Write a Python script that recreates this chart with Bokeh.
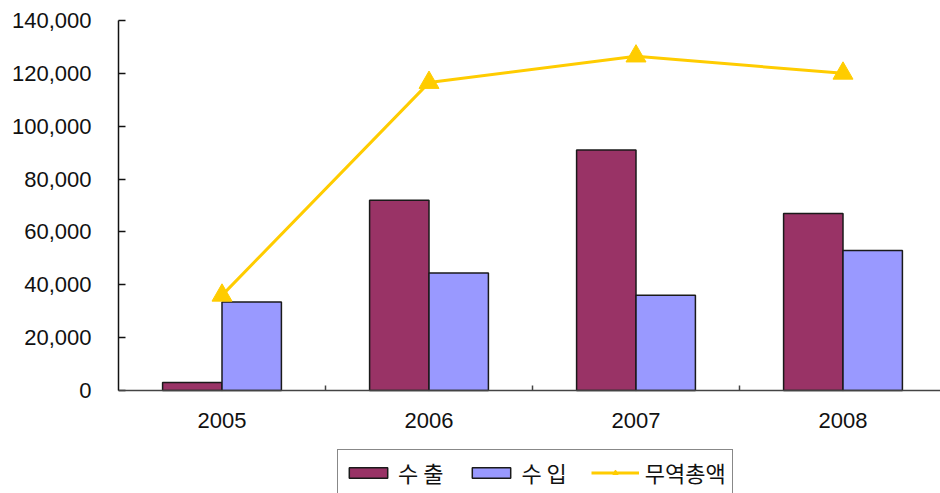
import numpy as np
from bokeh.plotting import figure
from bokeh.models import (ColumnDataSource, Range1d, FixedTicker, NumeralTickFormatter,
                          Legend, LegendItem, Span)
from bokeh.core.properties import value
from bokeh.embed import file_html
from bokeh.resources import INLINE

# ---- data ----
years = ["2005", "2006", "2007", "2008"]
exports = [3000, 72000, 91000, 67000]      # 수 출
imports = [33500, 44500, 36000, 53000]     # 수 입
totals = [36000, 116500, 126500, 120000]   # 무역총액
y_ticks = [0, 20000, 40000, 60000, 80000, 100000, 120000, 140000]

EXP_COLOR = "#993366"
IMP_COLOR = "#9999FF"
TOT_COLOR = "#FFCC00"
NUM_FONT = "Liberation Sans"
KR_FONT = "Noto Sans CJK KR"

n = len(years)
centers = np.arange(n) + 0.5
bounds = np.arange(1, n)
bw = 0.287
src = ColumnDataSource(dict(
    xc=centers, xe=centers - bw / 2, xi=centers + bw / 2,
    exp=exports, imp=imports, tot=totals, year=years,
))

W, H = 940, 493
TOP, ZERO_Y = 20, 390          # screen rows of 140,000 and 0
YMAX = 140000
ymin = -(H - ZERO_Y) / (ZERO_Y - TOP) * YMAX

p = figure(width=W, height=H, output_backend="svg", toolbar_location=None,
           x_range=Range1d(0, 822 / 207), y_range=Range1d(ymin, YMAX),
           x_axis_location=None,
           min_border_left=118, min_border_right=0, min_border_top=TOP,
           min_border_bottom=0)
p.outline_line_color = None
p.xgrid.grid_line_color = None
p.ygrid.grid_line_color = None
p.background_fill_color = "white"
p.border_fill_color = "white"

r_exp = p.vbar(x="xe", top="exp", width=bw, source=src, fill_color=EXP_COLOR,
               line_color="#1a1a1a", line_width=1.5)
r_imp = p.vbar(x="xi", top="imp", width=bw, source=src, fill_color=IMP_COLOR,
               line_color="#1a1a1a", line_width=1.5)

# category (x) axis drawn at y = 0
p.add_layout(Span(location=0, dimension="width", line_color="#444444", line_width=1.5))
p.ray(x=bounds, y=np.zeros(len(bounds)), length=5, length_units="screen",
      angle=np.pi / 2, line_color="#444444", line_width=1.5)
p.text(x="xc", y=0, text="year", source=src, y_offset=22, text_align="center",
       text_baseline="top", text_font=value(NUM_FONT), text_font_size="22px",
       text_color="#111111")

r_line = p.line(x="xc", y="tot", source=src, line_color=TOT_COLOR, line_width=3)
r_pts = p.scatter(x="xc", y="tot", source=src, marker="triangle", size=20,
                  fill_color=TOT_COLOR, line_color=TOT_COLOR)

# y axis
ya = p.yaxis[0]
ya.bounds = (0, YMAX)
ya.ticker = FixedTicker(ticks=y_ticks)
ya.formatter = NumeralTickFormatter(format="0,0")
ya.axis_line_color = "#111111"
ya.axis_line_width = 1.5
ya.major_tick_line_color = "#111111"
ya.major_tick_line_width = 1.5
ya.major_tick_in = 7
ya.major_tick_out = 0
ya.minor_tick_line_color = None
ya.major_label_standoff = 27
ya.major_label_text_font = NUM_FONT
ya.major_label_text_font_size = "22px"
ya.major_label_text_color = "#111111"

legend = Legend(items=[
    LegendItem(label="수 출", renderers=[r_exp]),
    LegendItem(label="수 입", renderers=[r_imp]),
    LegendItem(label="무역총액", renderers=[r_line, r_pts]),
], orientation="horizontal", location=(219, -2))
legend.margin = 0
legend.padding = 6
legend.spacing = 24
legend.glyph_width = 48
legend.glyph_height = 13
legend.label_standoff = 6
legend.label_text_font = KR_FONT
legend.label_text_font_size = "22px"
legend.label_text_color = "#111111"
legend.border_line_color = "#111111"
legend.border_line_width = 1.5
legend.background_fill_color = "white"
legend.background_fill_alpha = 1.0
p.add_layout(legend, "center")

open("out.html", "w").write(file_html(p, INLINE))
